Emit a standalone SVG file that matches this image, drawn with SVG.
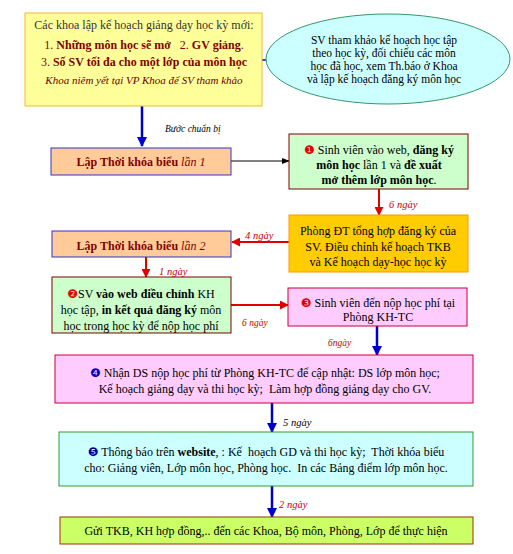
<svg xmlns="http://www.w3.org/2000/svg" width="513" height="554" viewBox="0 0 513 554">
<style>
text{font-family:"Liberation Serif","Times New Roman",serif;font-size:12px;fill:#000}
.c{text-anchor:middle}
.b{font-weight:bold}
.i{font-style:italic}
.dr{fill:#800000}
.lbl{font-size:10.5px;font-style:italic;fill:#CC0000}
.num{font-family:"DejaVu Sans",sans-serif;font-size:12px}
.blue{stroke:#0000CC;stroke-width:2.5;fill:none}
.red{stroke:#E00000;stroke-width:2;fill:none}
.blk{stroke:#000;stroke-width:1;fill:none}
</style>
<defs>
<marker id="ab" viewBox="0 0 10 10" refX="9" refY="5" markerWidth="4" markerHeight="4" orient="auto-start-reverse"><path d="M0,0L10,5L0,10z" fill="#0000CC"/></marker>
<marker id="ar" viewBox="0 0 10 10" refX="9" refY="5" markerWidth="4.5" markerHeight="4.5" orient="auto"><path d="M0,0L10,5L0,10z" fill="#E00000"/></marker>
<marker id="ak" viewBox="0 0 10 10" refX="9" refY="5" markerWidth="8" markerHeight="8" orient="auto"><path d="M0,1L10,5L0,9z" fill="#000"/></marker>
</defs>
<rect width="513" height="554" fill="#fff"/>
<g id="connectors">
<line x1="256" y1="60" x2="275" y2="60" stroke="#0000CC" stroke-width="1.5"/>
<path d="M252,60L258,56.5L258,63.5z M279,60L273,56.5L273,63.5z" fill="#0000CC"/>
<line class="blue" x1="142" y1="106" x2="142" y2="146" marker-end="url(#ab)"/>
<line class="blk" x1="231" y1="161" x2="289" y2="161" marker-end="url(#ak)"/>
<line class="red" x1="379" y1="189" x2="379" y2="215" marker-end="url(#ar)"/>
<line class="red" x1="289" y1="242" x2="232" y2="242" marker-end="url(#ar)"/>
<line class="red" x1="146" y1="257" x2="146" y2="277" marker-end="url(#ar)"/>
<line class="red" x1="231" y1="305" x2="288" y2="305" marker-end="url(#ar)"/>
<line class="blue" x1="377" y1="326" x2="377" y2="355" marker-end="url(#ab)"/>
<line class="blue" x1="272" y1="403" x2="272" y2="432" marker-end="url(#ab)"/>
<line class="blue" x1="272" y1="486" x2="272" y2="517" marker-end="url(#ab)"/>
<text x="165" y="132" class="i" style="font-size:9.5px">Bước chuẩn bị</text>
<text x="389" y="208" class="lbl">6 ngày</text>
<text x="245" y="239" class="lbl">4 ngày</text>
<text x="159" y="275" class="lbl">1 ngày</text>
<text x="242" y="326" class="lbl" style="font-size:9.5px">6 ngày</text>
<text x="328" y="346" class="lbl" style="font-size:9.5px">6ngày</text>
<text x="283" y="426" class="lbl" style="fill:#000">5 ngày</text>
<text x="279" y="508" class="lbl">2 ngày</text>
</g>
<g id="n_khoa">
<rect x="25" y="13" width="237" height="93" fill="#FFFF99" stroke="#F0B830"/>
<text x="144" y="29" class="c" style="fill:#333">Các khoa lập kế hoạch giảng dạy học kỳ mới:</text>
<text x="144" y="49" class="c dr" xml:space="preserve">1. <tspan class="b">Những môn học sẽ mở</tspan>   2. <tspan class="b">GV giảng</tspan>.</text>
<text x="144" y="66" class="c dr">3. <tspan class="b">Số SV tối đa cho một lớp của môn học</tspan></text>
<text x="144" y="84" class="c i" style="fill:#660000;font-size:11px">Khoa niêm yết tại VP Khoa để SV tham khảo</text>
</g>
<g id="n_sv_thamkhao">
<ellipse cx="388" cy="59" rx="122" ry="45" fill="#CCFFFF" stroke="#339966"/>
<text x="384" y="44" class="c" style="font-size:11.5px">SV tham khảo kế hoạch học tập</text>
<text x="384" y="57" class="c" style="font-size:11.5px">theo học kỳ, đối chiếu các môn</text>
<text x="384" y="70" class="c" style="font-size:11.5px">học đã học, xem Th.báo ở Khoa</text>
<text x="384" y="83" class="c" style="font-size:11.5px">và lập kế hoạch đăng ký môn học</text>
</g>
<g id="n_tkb1">
<rect x="51" y="148" width="180" height="27" fill="#FFCC99" stroke="#3333CC"/>
<text x="141" y="166" class="c dr"><tspan class="b">Lập Thời khóa biểu</tspan> <tspan class="i">lần 1</tspan></text>
</g>
<g id="n_dangky1">
<rect x="289" y="134" width="179" height="55" fill="#CCFFCC" stroke="#800000"/>
<text x="379" y="154" class="c"><tspan class="num" fill="#E00000">❶</tspan> Sinh viên vào web, <tspan class="b">đăng ký</tspan></text>
<text x="379" y="169" class="c"><tspan class="b">môn học</tspan> lần 1 và <tspan class="b">đề xuất</tspan></text>
<text x="379" y="184" class="c b">mở thêm lớp môn học<tspan font-weight="normal">.</tspan></text>
</g>
<g id="n_phongdt">
<rect x="289" y="215" width="179" height="57" fill="#FFCC00" stroke="#FF9900"/>
<text x="378" y="235" class="c">Phòng ĐT tổng hợp đăng ký của</text>
<text x="378" y="251" class="c">SV. Điều chỉnh kế hoạch TKB</text>
<text x="378" y="266" class="c">và Kế hoạch dạy-học học kỳ</text>
</g>
<g id="n_tkb2">
<rect x="52" y="231" width="179" height="26" fill="#FFCC99" stroke="#3333CC"/>
<text x="141" y="250" class="c dr"><tspan class="b">Lập Thời khóa biểu</tspan> <tspan class="i">lần 2</tspan></text>
</g>
<g id="n_dieuchinh">
<rect x="52" y="277" width="179" height="56" fill="#CCFFCC" stroke="#800000"/>
<text x="141" y="298" class="c"><tspan class="num" fill="#E00000">❷</tspan>SV <tspan class="b">vào web điều chỉnh</tspan> KH</text>
<text x="141" y="314" class="c">học tập, <tspan class="b">in kết quả đăng ký</tspan> môn</text>
<text x="141" y="330" class="c">học trong học kỳ để nộp học phí</text>
</g>
<g id="n_nophocphi">
<rect x="288" y="288" width="179" height="38" fill="#FFCCFF" stroke="#CC0033"/>
<text x="378" y="307" class="c"><tspan class="num" fill="#E00000">❸</tspan> Sinh viên đến nộp học phí tại</text>
<text x="378" y="321" class="c">Phòng KH-TC</text>
</g>
<g id="n_nhands">
<rect x="55" y="355" width="418" height="48" fill="#FFCCFF" stroke="#CC0033"/>
<text x="265" y="377" class="c"><tspan class="num" fill="#0000CC">❹</tspan> Nhận DS nộp học phí từ Phòng KH-TC để cập nhật: DS lớp môn học;</text>
<text x="265" y="393" class="c" xml:space="preserve">Kế hoạch giảng dạy và thi học kỳ;  Làm hợp đồng giảng dạy cho GV.</text>
</g>
<g id="n_thongbao">
<rect x="59" y="432" width="414" height="54" fill="#CCFFFF" stroke="#339933"/>
<text x="266" y="456" class="c" xml:space="preserve"><tspan class="num" fill="#000099">❺</tspan> Thông báo trên <tspan class="b">website</tspan>, : Kế  hoạch GD và thi học kỳ;  Thời khóa biểu</text>
<text x="266" y="472" class="c" xml:space="preserve">cho: Giảng viên, Lớp môn học, Phòng học.  In các Bảng điểm lớp môn học.</text>
</g>
<g id="n_gui">
<rect x="60" y="517" width="413" height="27" fill="#CCFF66" stroke="#993300"/>
<text x="266" y="535" class="c">Gửi TKB, KH hợp đồng,.. đến các Khoa, Bộ môn, Phòng, Lớp để thực hiện</text>
</g>
</svg>
